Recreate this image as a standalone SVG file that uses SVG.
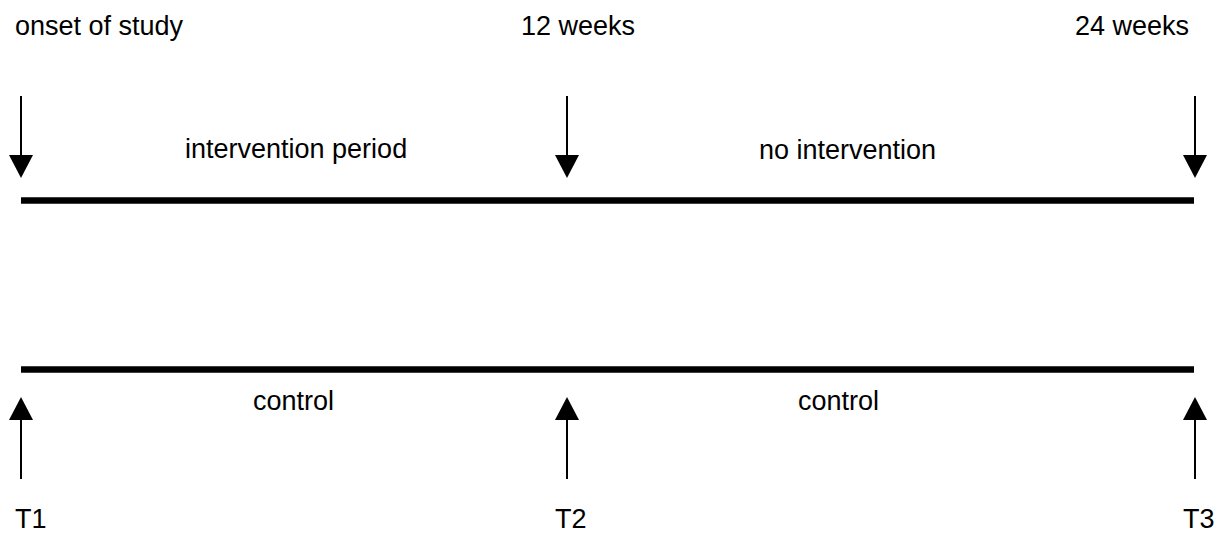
<svg xmlns="http://www.w3.org/2000/svg" width="1218" height="535" viewBox="0 0 1218 535">
  <style>
    text { font-family: "Liberation Sans", Arial, Helvetica, sans-serif; font-size: 27px; fill: #000; }
    .axis { stroke: #000; stroke-width: 6.5; fill: none; }
    .arrow { stroke: #000; stroke-width: 2; fill: none; marker-end: url(#head); }
  </style>
  <defs>
    <marker id="head" markerUnits="userSpaceOnUse" markerWidth="24" markerHeight="24" viewBox="0 0 23 24" refX="0" refY="12" orient="auto">
      <path d="M0,0 L23,12 L0,24 Z" fill="#000"/>
    </marker>
  </defs>
  <rect width="1218" height="535" fill="#fff"/>
  <g id="labels-top">
    <text x="15" y="35">onset of study</text>
    <text x="521" y="35">12 weeks</text>
    <text x="1075" y="35">24 weeks</text>
  </g>
  <g id="period-labels">
    <text x="185" y="158">intervention period</text>
    <text x="759" y="159">no intervention</text>
    <text x="253" y="410">control</text>
    <text x="798" y="410">control</text>
  </g>
  <g id="timeline-intervention">
    <line class="axis" x1="21" y1="200.5" x2="1194" y2="200.5"/>
  </g>
  <g id="timeline-control">
    <line class="axis" x1="21" y1="369.5" x2="1194" y2="369.5"/>
  </g>
  <g id="connectors">
    <line class="arrow" x1="21" y1="96" x2="21" y2="155"/>
    <line class="arrow" x1="567" y1="96" x2="567" y2="155"/>
    <line class="arrow" x1="1195" y1="96" x2="1195" y2="155"/>
    <line class="arrow" x1="21" y1="479" x2="21" y2="420"/>
    <line class="arrow" x1="567" y1="479" x2="567" y2="420"/>
    <line class="arrow" x1="1195" y1="479" x2="1195" y2="420"/>
  </g>
  <g id="labels-bottom">
    <text x="15" y="528">T1</text>
    <text x="555" y="528">T2</text>
    <text x="1183" y="528">T3</text>
  </g>
</svg>
